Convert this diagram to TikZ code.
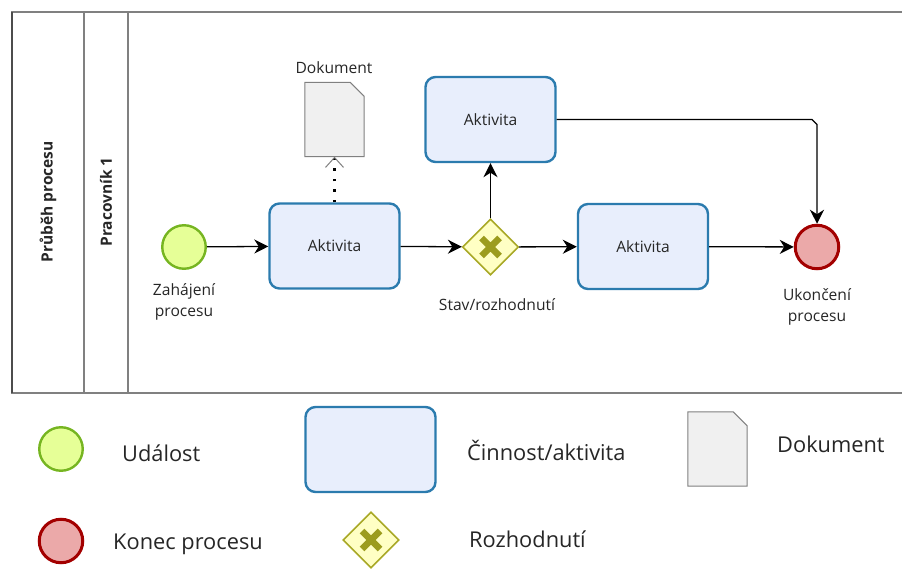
\documentclass[tikz,border=0pt]{standalone}
\usepackage{fontspec}
\setmainfont{Open Sans}
\usetikzlibrary{arrows.meta,positioning,shapes.geometric,calc}
\definecolor{actfill}{HTML}{E8EEFC}
\definecolor{actline}{HTML}{2B7BAE}
\definecolor{startfill}{HTML}{E6FF97}
\definecolor{startline}{HTML}{76B521}
\definecolor{endfill}{HTML}{EBA9A9}
\definecolor{endline}{HTML}{A30000}
\definecolor{gwfill}{HTML}{FFFFC4}
\definecolor{gwline}{HTML}{A8A826}
\definecolor{gwmark}{HTML}{9C9C1E}
\definecolor{docfill}{HTML}{F0F0F0}
\definecolor{poolline}{HTML}{808080}

% document shape drawn round an empty node
\newcommand{\drawdoc}[1]{%
  \draw[draw=poolline,fill=docfill,line width=1pt]
    (#1.north west) -- ([xshift=-14pt]#1.north east) -- ([yshift=-14pt]#1.north east)
    -- (#1.south east) -- (#1.south west) -- cycle;}

\begin{document}
\begin{tikzpicture}[x=1pt,y=-1pt,
lbl/.style={font=\fontsize{15.6}{21}\selectfont,text=black!85,align=center,inner sep=0pt},
leg/.style={font=\fontsize{21.8}{26}\selectfont,text=black!85,anchor=base west,inner sep=0pt},
lane/.style={rotate=90,font=\bfseries\fontsize{15.5}{18}\selectfont,text=black!85},
act/.style={draw=actline,fill=actfill,line width=2.4pt,rounded corners=10pt,
minimum width=130pt,minimum height=85pt,lbl},
event/.style={circle,line width=2.4pt,minimum size=43.5pt,inner sep=0pt},
startev/.style={event,draw=startline,fill=startfill},
endev/.style={event,draw=endline,fill=endfill,line width=3pt},
gw/.style={diamond,draw=gwline,fill=gwfill,line width=1.6pt,minimum size=56pt,inner sep=0pt,
path picture={\draw[gwmark,line width=6.5pt]
([shift={(-9,-9)}]path picture bounding box.center) -- ([shift={(9,9)}]path picture bounding box.center)
([shift={(-9,9)}]path picture bounding box.center) -- ([shift={(9,-9)}]path picture bounding box.center);}},
docbox/.style={minimum width=59pt,minimum height=74pt,inner sep=0pt},
flow/.style={-{Stealth[length=14pt,width=14pt,inset=4.5pt]},line width=1.3pt},
assoc/.style={line width=2.5pt,dash pattern=on 2.5pt off 8pt,
-{Straight Barb[length=10pt,width=18pt,line width=1pt,color=poolline]}}
]
\useasboundingbox (0,0) rectangle (902,569);

% pool and lane
\draw[poolline,line width=1.5pt] (902,12) -- (12,12) -- (12,393) -- (902,393);
\draw[black!70,line width=1.5pt] (12,12) -- (12,393);
\draw[poolline,line width=1.2pt] (84,12) -- (84,393) (128,12) -- (128,393);
\node[lane] (pool) at (48,202) {Průběh procesu};
\node[lane] (worker) at (106,202) {Pracovník 1};

% process
\node[startev] (start) at (184,247) {};
\node[act] (act1) at (334.5,246) {Aktivita};
\node[gw] (gate) at (490.5,247) {};
\node[act] (act2) at (490.5,119.5) {Aktivita};
\node[act] (act3) at (643,246.5) {Aktivita};
\node[endev] (stop) at (817,247) {};
\node[docbox] (doc) at (334.5,119.5) {};
\drawdoc{doc}

\node[lbl] (startlbl) at (184,302) {Zahájení\\procesu};
\node[lbl] (gatelbl) at (497,305) {Stav/rozhodnutí};
\node[lbl] (stoplbl) at (817,307) {Ukončení\\procesu};
\node[lbl] (doclbl) at (334,68) {Dokument};

\draw[flow] (start) -- (act1);
\draw[flow] (act1) -- (gate);
\draw[flow] (gate) -- (act3);
\draw[flow] (gate) -- (act2);
\draw[flow] (act3) -- (stop);
\draw[flow] (act2.east) -- ([xshift=-5pt]act2.east -| stop.north)
  -- ([yshift=-5pt]act2.east -| stop.north) -- (stop.north);
\draw[assoc] (act1.north) -- (doc.south);

% legend
\node[startev] (lstart) at (61,449) {};
\node[endev] (lstop) at (61,541) {};
\node[act] (lact) at (370.5,449.5) {};
\node[gw] (lgate) at (371,540) {};
\node[docbox] (ldoc) at (717.5,449) {};
\drawdoc{ldoc}
\node[leg] (lstartlbl) at (122,461) {Událost};
\node[leg] (lstoplbl) at (113,549) {Konec procesu};
\node[leg] (lactlbl) at (467,460) {Činnost/aktivita};
\node[leg] (lgatelbl) at (469,547) {Rozhodnutí};
\node[leg] (ldoclbl) at (777,452) {Dokument};
\end{tikzpicture}
\end{document}
